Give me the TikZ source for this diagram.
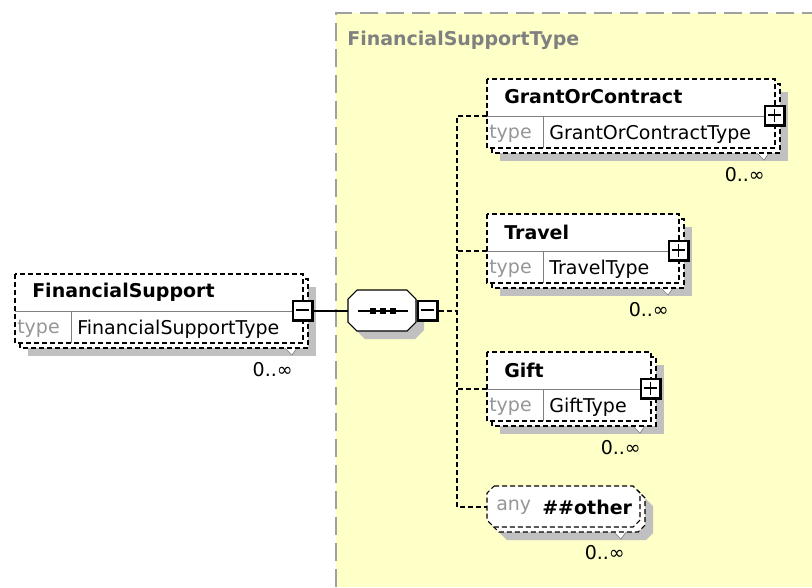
\documentclass[tikz,border=0pt]{standalone}
\usepackage{fontspec}
\setmainfont{DejaVu Sans}
\definecolor{typebg}{RGB}{255,255,200}
\definecolor{framegrey}{RGB}{160,160,160}
\definecolor{shadowgrey}{RGB}{192,192,192}
\definecolor{linegrey}{RGB}{128,128,128}
\definecolor{keygrey}{RGB}{150,150,150}
\tikzset{
  txt/.style={inner sep=0pt, anchor=west, font=\fontsize{14.25}{17}\selectfont},
  elemname/.style={txt, font=\fontsize{14.25}{17}\selectfont\bfseries},
  typekey/.style={txt, text=keygrey},
  typename/.style={txt},
  occurs/.style={inner sep=0pt, anchor=east, font=\fontsize{14.25}{17}\selectfont},
  elemline/.style={draw=black, fill=white, line width=0.8pt, dash pattern=on 3.75pt off 2.25pt},
  branch/.style={line width=0.8pt, dash pattern=on 3.75pt off 2.25pt},
  midline/.style={draw=linegrey, line width=0.75pt},
}
\newcommand{\octagon}[5]{({#1+#5},#2) -- ({#3-#5},#2) -- (#3,{#2+#5}) -- (#3,{#4-#5}) -- ({#3-#5},#4) -- ({#1+#5},#4) -- (#1,{#4-#5}) -- (#1,{#2+#5}) -- cycle}
\newcommand{\togglebox}[4]{%
  \fill ({#2-11},{#3-11}) rectangle ({#2+11},{#3+11});
  \fill [white] ({#2-9.5},{#3-9.5}) rectangle ({#2+8},{#3+8});
  \draw [line width=1.1pt] ({#2-7},{#3-1}) -- ({#2+6},{#3-1});
  \ifnum#4=1 \draw [line width=1.1pt] ({#2-0.5},{#3-7.5}) -- ({#2-0.5},{#3+5.5});\fi
  \coordinate (#1) at ({#2+11},#3);
}
\newcommand{\xsdelem}[6]{%
  \fill [shadowgrey] ({#2+13},{#3+13}) rectangle ({#4+13},{#3+82});
  \filldraw [fill=white, draw=linegrey, line width=0.5pt] ({#4-18},{#3+74}) -- ({#4-11},{#3+81}) -- ({#4-6},{#3+74});
  \path [elemline] ({#2+5},{#3+5}) rectangle ({#4+5},{#3+74});
  \path [elemline] (#2,#3) rectangle (#4,{#3+69});
  \draw [midline] (#2,{#3+37}) -- (#4,{#3+37});
  \draw [midline] ({#2+56},{#3+37}) -- ({#2+56},{#3+69});
  \node [elemname] (#1) at ({#2+17},{#3+18}) {#5};
  \node [typekey] (#1-key) at ({#2+2},{#3+55}) {type};
  \node [typename] (#1-type) at ({#2+62},{#3+55}) {#6};
  \node [occurs] (#1-occ) at ({#4-10},{#3+96}) {0..∞};
  \coordinate (#1-in) at (#2,{#3+37});
}
\begin{document}
\begin{tikzpicture}[x=0.75pt, y=-0.75pt]
                \useasboundingbox (0,0) rectangle (812,587);
                \fill [typebg] (336,13) rectangle (812,587);
                \draw [framegrey, line width=1.5pt, dash pattern=on 13.5pt off 6pt] (336,587) -- (336,13) -- (812,13);
                \node [elemname, text=linegrey] (typetitle) at (347,40) {FinancialSupportType};
                \xsdelem{fs}{15}{274}{303}{FinancialSupport}{FinancialSupportType}
                \togglebox{fs-out}{303}{311}{0}
                \fill [shadowgrey] \octagon{356}{298}{424}{339}{9};
                \filldraw [fill=white, line width=0.8pt] \octagon{348}{290}{416}{331}{9};
                \coordinate (seq-in) at (348,311);
                \draw [line width=0.8pt] (358,311) -- (408,311);
                \foreach \x in {373,383,393} \fill (\x-3,308) rectangle (\x+3,314);
                \togglebox{seq-out}{428}{311}{0}
                \coordinate (seq-bus) at (457,311);
                \xsdelem{grant}{487}{79}{775}{GrantOrContract}{GrantOrContractType}
                \togglebox{grant-tog}{775}{116}{1}
                \xsdelem{travel}{487}{214}{679}{Travel}{TravelType}
                \togglebox{travel-tog}{679}{251}{1}
                \xsdelem{gift}{487}{352}{651}{Gift}{GiftType}
                \togglebox{gift-tog}{651}{389}{1}
                \fill [shadowgrey] \octagon{500}{499}{653}{540}{7};
                \filldraw [fill=white, draw=linegrey, line width=0.5pt] (614,532) -- (621,539) -- (626,532);
                \path [elemline] \octagon{492}{491}{645}{532}{7};
                \path [elemline] \octagon{487}{486}{640}{527}{7};
                \node [typekey] (any-key) at (496,507) {any};
                \node [elemname] (any) at (542,507) {\#\#other};
                \node [occurs] (any-occ) at (625,553) {0..∞};
                \coordinate (any-in) at (487,507);
                \draw [line width=0.8pt] (fs-out) -- (seq-in);
                \draw [branch] (seq-out) -- (seq-bus);
                \draw [branch] (grant-in) -| (seq-bus) |- (any-in);
                \draw [branch] (travel-in) -- (travel-in -| seq-bus);
                \draw [branch] (gift-in) -- (gift-in -| seq-bus);
\end{tikzpicture}
\end{document}
